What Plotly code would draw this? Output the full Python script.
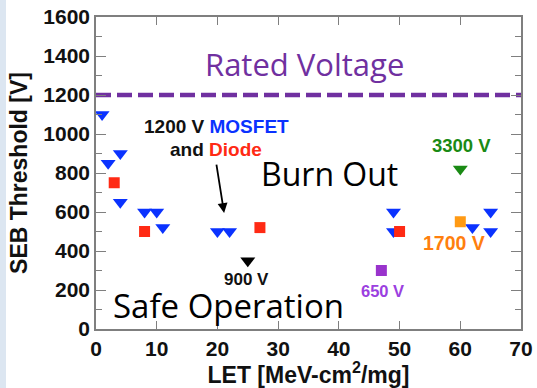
import plotly.graph_objects as go

# Data
mosfet_let = [1, 2, 4, 4, 8, 10, 11, 20, 22, 49, 49, 62, 65, 65]
mosfet_seb = [1100, 850, 900, 650, 600, 600, 520, 500, 500, 600, 500, 520, 600, 500]
diode_let = [3, 8, 27, 50]
diode_seb = [750, 500, 520, 500]
v900_let = [25]
v900_seb = [350]
v650_let = [47]
v650_seb = [300]
v1700_let = [60]
v1700_seb = [550]
v3300_let = [60]
v3300_seb = [820]
rated_voltage = 1200
x_ticks = [0, 10, 20, 30, 40, 50, 60, 70]
y_ticks = [0, 200, 400, 600, 800, 1000, 1200, 1400, 1600]

BLUE = "#0a32ff"
RED = "#ff2a14"
ORANGE = "#ff9a14"
GREEN = "#1a8a14"
PURPLE = "#9933cc"
RATED = "#7030a0"

fig = go.Figure()

fig.add_trace(go.Scatter(x=[0, 70], y=[rated_voltage, rated_voltage], mode="lines",
                         line=dict(color=RATED, width=4.5, dash="15px,6px"),
                         hoverinfo="skip", showlegend=False))

def pts(x, y, sym, color, size):
    fig.add_trace(go.Scatter(x=x, y=y, mode="markers", showlegend=False,
                             marker=dict(symbol=sym, color=color, size=size, line=dict(width=0))))

pts(mosfet_let, mosfet_seb, "triangle-down", BLUE, 13)
pts(diode_let, diode_seb, "square", RED, 11)
pts(v900_let, v900_seb, "triangle-down", "#000000", 13)
pts(v650_let, v650_seb, "square", PURPLE, 11)
pts(v1700_let, v1700_seb, "square", ORANGE, 11)
pts(v3300_let, v3300_seb, "triangle-down", GREEN, 13)

bold = "Liberation Sans, Arial, sans-serif"
cal = "Open Sans, sans-serif"

def txt(x, y, t, color, size, fam, weight="normal"):
    fig.add_annotation(x=x, y=y, text=t, showarrow=False, xref="x", yref="y",
                       font=dict(color=color, size=size, family=fam, weight=weight),
                       xanchor="center", yanchor="middle")

txt(34.4, 1360, "Rated Voltage", RATED, 31, cal)
txt(38.5, 796, "Burn Out", "#000000", 32, cal)
txt(21.9, 120, "Safe Operation", "#000000", 33, cal)
txt(19.8, 1036, "1200 V <span style='color:%s'>MOSFET</span>" % BLUE, "#111111", 19, bold, "bold")
txt(19.7, 923, "and <span style='color:%s'>Diode</span>" % RED, "#111111", 19, bold, "bold")
txt(24.8, 256, "900 V", "#111111", 17, bold, "bold")
txt(47.2, 197, "650 V", "#9b3fe0", 16.5, bold, "bold")
txt(59.0, 439, "1700 V", "#ff7f0e", 19.5, bold, "bold")
txt(60.2, 941, "3300 V", GREEN, 18.5, bold, "bold")

fig.add_annotation(x=21.1, y=595, ax=19.8, ay=851, xref="x", yref="y", axref="x", ayref="y",
                   showarrow=True, arrowhead=2, arrowsize=1.1, arrowwidth=1.8, arrowcolor="#000000", text="")

# left strip
fig.add_shape(type="rect", xref="paper", yref="paper", x0=-96/425, x1=-90/425, y0=-1, y1=2,
              fillcolor="#dce6f1", line=dict(width=0), layer="below")

axis_common = dict(showgrid=False, zeroline=False, showline=True, linecolor="#7f7f7f", linewidth=1.5,
                   mirror="ticks", ticks="inside", tickcolor="#7f7f7f", tickwidth=1.3, automargin=False,
                   tickfont=dict(family=bold, size=21, color="#111111", weight="bold"))

fig.update_xaxes(range=[0, 70], tickvals=x_ticks, ticklen=8,
                 title=dict(text="LET [MeV-cm<sup>2</sup>/mg]", font=dict(family=bold, size=23, color="#111111", weight="bold"), standoff=6),
                 **axis_common)
fig.update_yaxes(range=[0, 1600], tickvals=y_ticks, ticklen=10,
                 minor=dict(ticks="inside", ticklen=6, dtick=100, tickcolor="#7f7f7f", tickwidth=1.3),
                 title=dict(text="SEB Threshold [V]", font=dict(family=bold, size=23, color="#111111", weight="bold"), standoff=9),
                 **axis_common)

fig.update_layout(width=537, height=388, margin=dict(l=96, r=16, t=17, b=59),
                  paper_bgcolor="white", plot_bgcolor="white", showlegend=False)

fig.write_html("out.html", config={"displayModeBar": False},
               post_script="document.body.style.margin='0';document.body.style.padding='0';")
